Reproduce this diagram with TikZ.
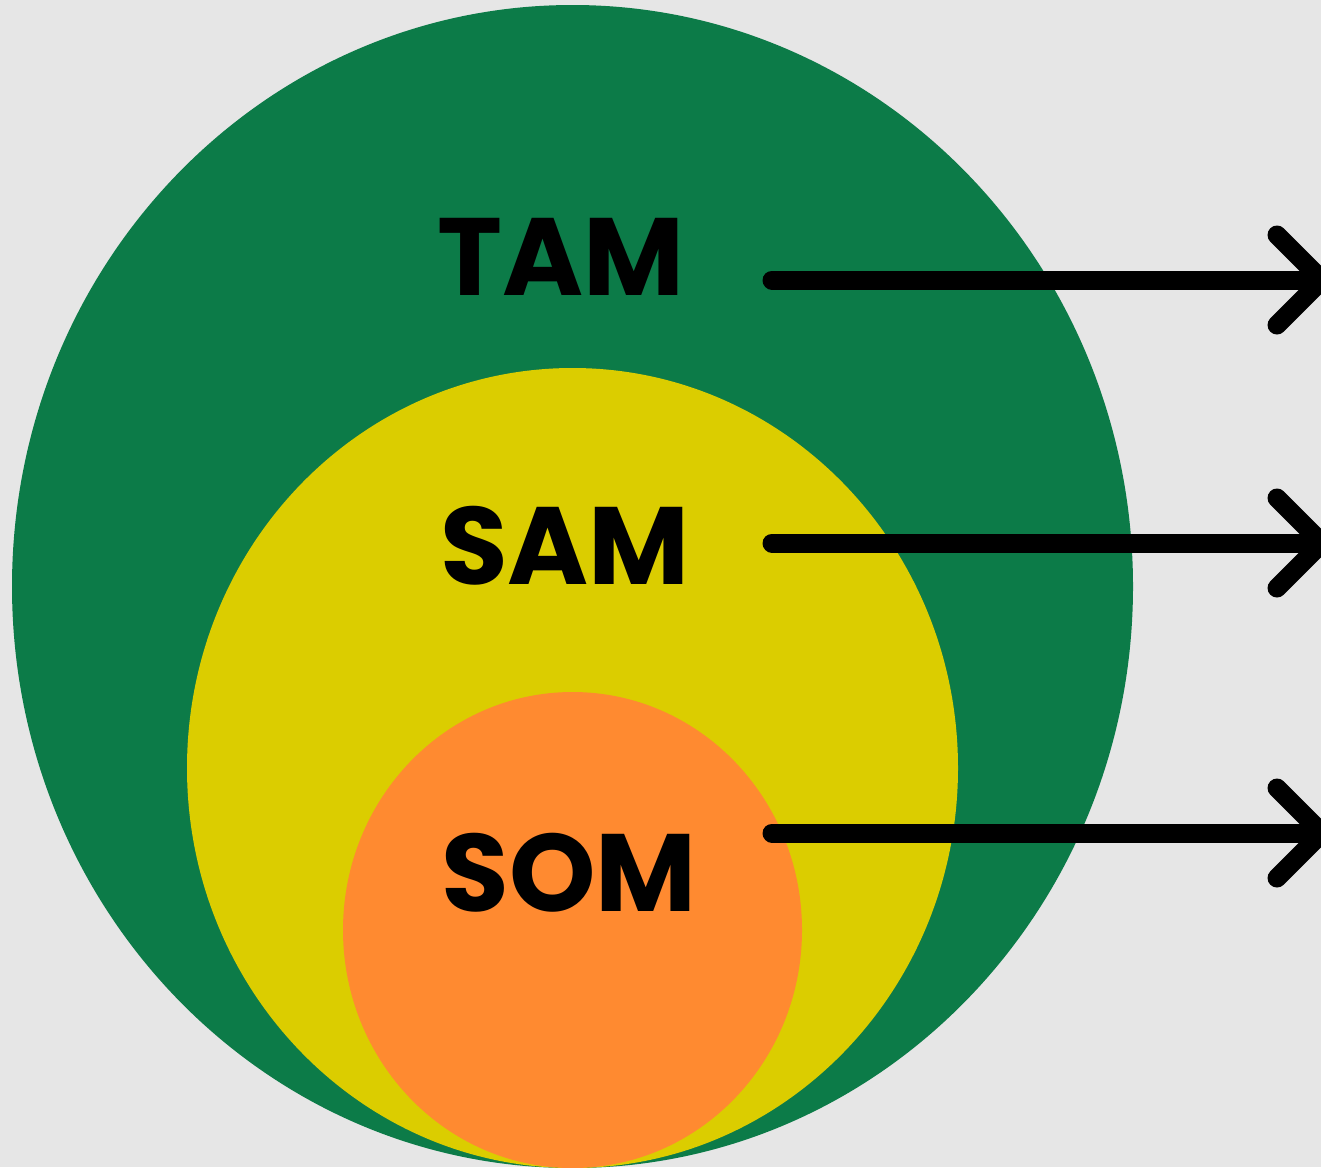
\documentclass[tikz,border=0pt]{standalone}
\usepackage{fontspec}
\setmainfont{Poppins}[BoldFont={* Bold}]
\definecolor{bg}{HTML}{E6E6E6}
\definecolor{tamgreen}{HTML}{0C7B48}
\definecolor{samyellow}{HTML}{DBCD00}
\definecolor{somorange}{HTML}{FF8A30}
\begin{document}
\begin{tikzpicture}[x=1pt,y=-1pt,
  lbl/.style={font=\fontsize{110}{110}\selectfont\bfseries, text=black, inner sep=0pt},
  arrowline/.style={line width=19pt, line cap=round, line join=round, draw=black}]
\useasboundingbox (0,0) rectangle (1321,1167);
\clip (0,0) rectangle (1321,1167);
\fill[bg] (0,0) rectangle (1321,1167);
\fill[tamgreen] (572.5,586.5) ellipse [x radius=560.5, y radius=581.5];
\fill[samyellow] (572.5,768) ellipse [x radius=385.5, y radius=400];
\fill[somorange] (572.5,930) ellipse [x radius=229.5, y radius=238];
\node[lbl] (tam) at (561,257) {TAM};
\node[lbl] (sam) at (565,546) {SAM};
\node[lbl] (som) at (569,873) {SOM};
\foreach \n/\yy in {a/280,b/543,c/833}{
  \coordinate (\n s) at (772,\yy);
  \coordinate (\n t) at (1322,\yy);
  \coordinate (\n u) at (1277,\yy-45);
  \coordinate (\n d) at (1277,\yy+45);
  \draw[arrowline] (\n s) -- (\n t);
  \draw[arrowline] (\n u) -- (\n t) -- (\n d);
}
\end{tikzpicture}
\end{document}
